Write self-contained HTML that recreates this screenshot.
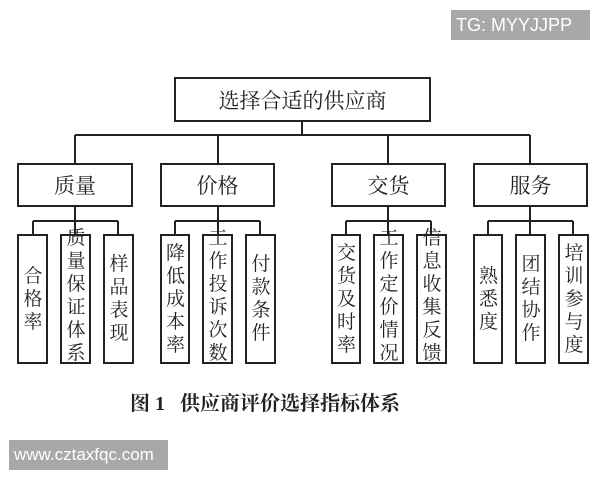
<!DOCTYPE html>
<html><head><meta charset="utf-8"><style>
body{margin:0;width:600px;height:480px;background:#fff;position:relative;overflow:hidden;font-family:"Liberation Serif","Noto Serif CJK SC",serif;}
.t{position:absolute;display:flex;align-items:center;justify-content:center;color:#222;}
.v{position:absolute;display:flex;flex-direction:column;align-items:center;justify-content:center;font-size:19px;line-height:23px;color:#222;top:235px;height:128px;}
.v.s{top:232px;}
.wm{position:absolute;background:#a8a8a8;color:#fff;font-family:"Liberation Sans",sans-serif;font-size:18px;display:flex;align-items:center;padding-left:5px;box-sizing:border-box;white-space:nowrap;overflow:hidden;}
</style></head><body>
<svg width="600" height="480" style="position:absolute;left:0;top:0" fill="none" stroke="#222" stroke-width="2">
<rect x="175" y="78" width="255" height="43"/>
<line x1="302" y1="121" x2="302" y2="135"/>
<line x1="75" y1="135" x2="530" y2="135"/>
<line x1="75" y1="135" x2="75" y2="164"/>
<line x1="218" y1="135" x2="218" y2="164"/>
<line x1="388" y1="135" x2="388" y2="164"/>
<line x1="530" y1="135" x2="530" y2="164"/>
<rect x="18" y="164" width="114" height="42"/>
<rect x="161" y="164" width="113" height="42"/>
<rect x="332" y="164" width="113" height="42"/>
<rect x="474" y="164" width="113" height="42"/>
<g>
<line x1="75" y1="206" x2="75" y2="235"/><line x1="33" y1="221" x2="118" y2="221"/><line x1="33" y1="221" x2="33" y2="235"/><line x1="118" y1="221" x2="118" y2="235"/>
<line x1="218" y1="206" x2="218" y2="235"/><line x1="175" y1="221" x2="260" y2="221"/><line x1="175" y1="221" x2="175" y2="235"/><line x1="260" y1="221" x2="260" y2="235"/>
<line x1="388" y1="206" x2="388" y2="235"/><line x1="346" y1="221" x2="431" y2="221"/><line x1="346" y1="221" x2="346" y2="235"/><line x1="431" y1="221" x2="431" y2="235"/>
<line x1="530" y1="206" x2="530" y2="235"/><line x1="488" y1="221" x2="573" y2="221"/><line x1="488" y1="221" x2="488" y2="235"/><line x1="573" y1="221" x2="573" y2="235"/>
</g>
<g>
<rect x="18" y="235" width="29" height="128"/><rect x="61" y="235" width="29" height="128"/><rect x="104" y="235" width="29" height="128"/>
<rect x="161" y="235" width="28" height="128"/><rect x="203" y="235" width="29" height="128"/><rect x="246" y="235" width="29" height="128"/>
<rect x="332" y="235" width="28" height="128"/><rect x="374" y="235" width="29" height="128"/><rect x="417" y="235" width="29" height="128"/>
<rect x="474" y="235" width="28" height="128"/><rect x="516" y="235" width="29" height="128"/><rect x="559" y="235" width="29" height="128"/>
</g>
</svg>
<div class="t" style="left:175px;top:78px;width:255px;height:43px;font-size:21px;">选择合适的供应商</div>
<div class="t" style="left:18px;top:164px;width:114px;height:42px;font-size:21px;">质量</div>
<div class="t" style="left:161px;top:164px;width:113px;height:42px;font-size:21px;">价格</div>
<div class="t" style="left:332px;top:164px;width:113px;height:42px;font-size:21px;">交货</div>
<div class="t" style="left:474px;top:164px;width:113px;height:42px;font-size:21px;">服务</div>

<div class="v" style="left:18px;width:30px;"><span>合</span><span>格</span><span>率</span></div>
<div class="v s" style="left:61px;width:30px;"><span>质</span><span>量</span><span>保</span><span>证</span><span>体</span><span>系</span></div>
<div class="v" style="left:104px;width:30px;"><span>样</span><span>品</span><span>表</span><span>现</span></div>
<div class="v" style="left:161px;width:29px;"><span>降</span><span>低</span><span>成</span><span>本</span><span>率</span></div>
<div class="v s" style="left:203px;width:30px;"><span>工</span><span>作</span><span>投</span><span>诉</span><span>次</span><span>数</span></div>
<div class="v" style="left:246px;width:30px;"><span>付</span><span>款</span><span>条</span><span>件</span></div>
<div class="v" style="left:332px;width:29px;"><span>交</span><span>货</span><span>及</span><span>时</span><span>率</span></div>
<div class="v s" style="left:374px;width:30px;"><span>工</span><span>作</span><span>定</span><span>价</span><span>情</span><span>况</span></div>
<div class="v s" style="left:417px;width:30px;"><span>信</span><span>息</span><span>收</span><span>集</span><span>反</span><span>馈</span></div>
<div class="v" style="left:474px;width:29px;"><span>熟</span><span>悉</span><span>度</span></div>
<div class="v" style="left:516px;width:30px;"><span>团</span><span>结</span><span>协</span><span>作</span></div>
<div class="v" style="left:559px;width:30px;"><span>培</span><span>训</span><span>参</span><span>与</span><span>度</span></div>

<div class="t" style="left:130px;top:388px;width:270px;height:26px;font-size:20px;font-weight:bold;white-space:nowrap;"><span>图 1</span><span style="display:inline-block;width:22px"></span><span>供应商评价选择指标体系</span></div>

<div class="wm" style="left:451px;top:10px;width:139px;height:30px;">TG: MYYJJPP</div>
<div class="wm" style="left:9px;top:440px;width:159px;height:30px;font-size:17px;">www.cztaxfqc.com</div>
</body></html>
